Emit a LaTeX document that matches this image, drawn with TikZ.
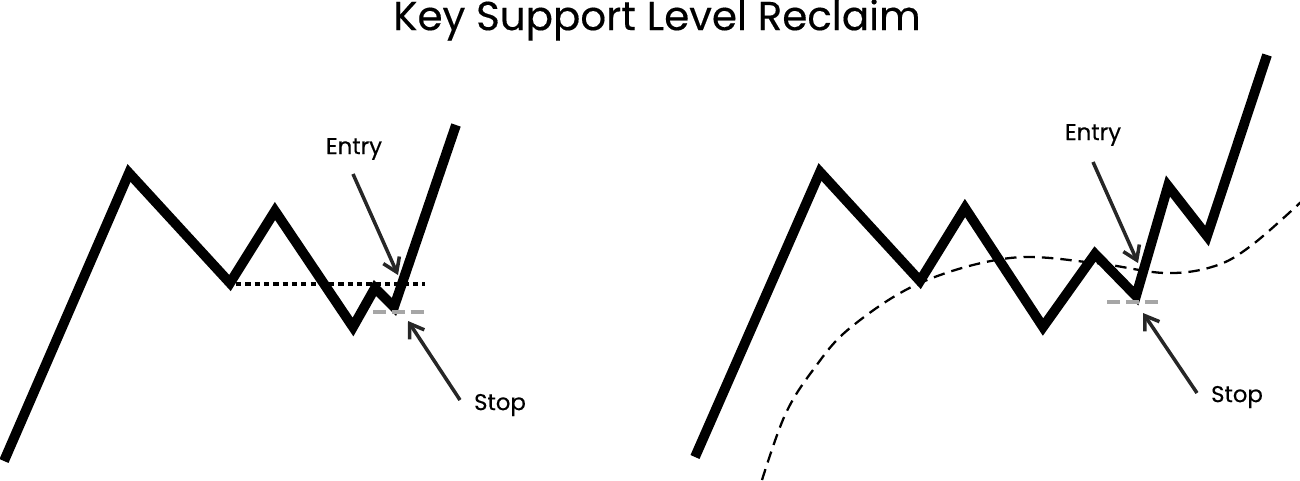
\documentclass[tikz,border=0pt]{standalone}
\usepackage{fontspec}
\setmainfont{Poppins}
\newfontfamily\medfont{Poppins}[FakeBold=0.35]
\usepackage{tikz}
\usetikzlibrary{arrows.meta}

\tikzset{
  price/.style={line width=5.6pt},
  pointer/.style={line width=2pt,draw=black!85,-{Straight Barb[length=7.5pt,width=10pt,line width=2pt]}},
  stoplvl/.style={line width=2pt,draw=black!35,dash pattern=on 7.4pt off 3.3pt},
  label/.style={font=\fontsize{13}{15}\selectfont\medfont}
}

\begin{document}
\begin{tikzpicture}[x=0.02cm,y=-0.02cm]
    \useasboundingbox (0,0) rectangle (1300,480);
    \node (title) at (657,20) {\fontsize{23}{27}\selectfont\medfont Key Support Level Reclaim};
    % left chart
    \draw[price] (4,461) -- (129,173) -- (230,283) -- (275,211) -- (353,327) -- (375,288) -- (394,307) -- (456,125);
    \draw[line width=2pt,dash pattern=on 3pt off 2.3pt] (236,284) -- (425,284);
    \draw[stoplvl] (373,312) -- (425,312);
    \node[label] (en1) at (354,149) {Entry};
    \node[label] (st1) at (500,405) {Stop};
    \coordinate (ea1) at (353,174);
    \coordinate (eb1) at (398,275);
    \coordinate (sa1) at (460,400);
    \coordinate (sb1) at (408,321);
    \draw[pointer] (ea1) -- (eb1);
    \draw[pointer] (sa1) -- (sb1);
    % right chart
    \draw[line width=1.3pt,dash pattern=on 6.5pt off 4pt] plot[smooth,tension=0.6] coordinates {(762,480) (785,415) (813,370) (850,328) (920,283) (1010,258) (1095,263) (1165,273) (1215,266) (1252,245) (1302,201)};
    \draw[price] (695,457) -- (820,172) -- (920,281) -- (965,208) -- (1043,327) -- (1095,254) -- (1136,296) -- (1168,186) -- (1207,236) -- (1267,55);
    \draw[stoplvl] (1107,302) -- (1159,302);
    \node[label] (en2) at (1093,135) {Entry};
    \node[label] (st2) at (1237,397) {Stop};
    \coordinate (ea2) at (1093,162);
    \coordinate (eb2) at (1138,263);
    \coordinate (sa2) at (1197,393);
    \coordinate (sb2) at (1143,313);
    \draw[pointer] (ea2) -- (eb2);
    \draw[pointer] (sa2) -- (sb2);
\end{tikzpicture}
\end{document}
